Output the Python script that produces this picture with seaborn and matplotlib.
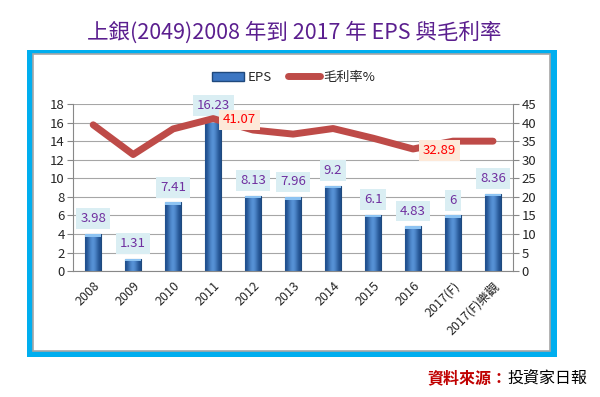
import matplotlib.pyplot as plt
import numpy as np
import seaborn as sns
from matplotlib.lines import Line2D
from matplotlib.patches import Patch, Rectangle

# Data
years = ["2008", "2009", "2010", "2011", "2012", "2013", "2014", "2015", "2016", "2017(F)", "2017(F)樂觀"]
eps = [3.98, 1.31, 7.41, 16.23, 8.13, 7.96, 9.2, 6.1, 4.83, 6, 8.36]
gross_margin = [39.4, 31.4, 38.3, 41.07, 38.0, 36.9, 38.4, 35.8, 32.89, 35.0, 35.0]
margin_labels = {3: "41.07", 8: "32.89"}

sns.set_style("white")
plt.rcParams["font.family"] = ["Noto Sans CJK TC", "DejaVu Sans"]

fig = plt.figure(figsize=(6, 3.97), dpi=100)

# blue frame with white panel inside
fig.patches.append(Rectangle((0.045, 0.101), 0.883, 0.773, transform=fig.transFigure,
                             facecolor="#00AEEF", edgecolor="none", zorder=-3))
fig.patches.append(Rectangle((0.055, 0.116), 0.862, 0.748, transform=fig.transFigure,
                             facecolor="white", edgecolor="#A6A6A6", lw=1.2, zorder=-2))

fig.text(0.49, 0.918, "上銀(2049)2008 年到 2017 年 EPS 與毛利率",
         ha="center", va="center", fontsize=15.5, color="#5B1F8F")

ax = fig.add_axes([0.122, 0.317, 0.733, 0.421])
ax.set_facecolor("none")
n = len(years)

sns.barplot(x=years, y=eps, ax=ax, color="#3C76C2", edgecolor="#1F497D",
            linewidth=0.8, width=0.4, zorder=2)

# horizontal shading on each bar
grad = np.array([[0.0, 0.45, 0.75, 0.45, 0.0]])
for bar in ax.patches:
    x0, y0 = bar.get_x(), bar.get_y()
    w, h = bar.get_width(), bar.get_height()
    im = ax.imshow(grad, cmap=sns.blend_palette(["#1F4E8C", "#5E9BE0"], as_cmap=True),
                   extent=[x0, x0 + w, y0, y0 + h], aspect="auto", zorder=2.5,
                   interpolation="bicubic")
    im.set_clip_path(bar)
    ax.add_patch(Rectangle((x0, y0 + h - 0.25), w, 0.25, facecolor="#8DC3F2",
                           edgecolor="none", zorder=3))

for i, v in enumerate(eps):
    ax.annotate(f"{v:g}", (i, v), xytext=(0, 11), textcoords="offset points",
                ha="center", va="center", fontsize=9.5, color="#7030A0", zorder=5,
                bbox=dict(boxstyle="square,pad=0.3", facecolor="#DAEEF3", edgecolor="none"))

ax.set_ylim(0, 18)
ax.set_yticks(range(0, 19, 2))
ax.set_xlim(-0.5, n - 0.5)
ax.yaxis.grid(True, color="#A6A6A6", lw=0.8, zorder=0)
ax.set_axisbelow(True)
ax.set_xticks(range(n))
ax.set_xticklabels(years, rotation=45, ha="right", rotation_mode="anchor", fontsize=9)
ax.set_xticks(np.arange(-0.5, n, 1), minor=True)
ax.tick_params(axis="x", which="major", length=0, pad=6)
ax.tick_params(axis="x", which="minor", length=4, color="#888888", direction="out")
ax.tick_params(axis="y", length=4, color="#888888", direction="out", labelsize=9.5, pad=2)
for side in ["left", "bottom"]:
    ax.spines[side].set_color("#888888")
ax.spines["top"].set_visible(False)
ax.spines["right"].set_visible(False)
ax.set_xlabel("")

ax2 = ax.twinx()
sns.lineplot(x=np.arange(n), y=gross_margin, ax=ax2, color="#BE4B48", lw=5,
             solid_capstyle="round", solid_joinstyle="round")
for i, txt in margin_labels.items():
    ax2.annotate(txt, (i, gross_margin[i]), xytext=(7, -1), textcoords="offset points",
                 ha="left", va="center", fontsize=9.5, color="#FF0000", zorder=5,
                 bbox=dict(boxstyle="square,pad=0.3", facecolor="#FDE9D9", edgecolor="none"))
ax2.set_ylim(0, 45)
ax2.set_yticks(range(0, 46, 5))
ax2.set_xlim(-0.5, n - 0.5)
ax2.tick_params(axis="y", length=4, color="#888888", direction="out", labelsize=9.5, pad=2)
ax2.spines["right"].set_color("#888888")
for side in ["top", "left", "bottom"]:
    ax2.spines[side].set_visible(False)

handles = [Patch(facecolor="#3C76C2", edgecolor="#1F497D"),
           Line2D([], [], color="#BE4B48", lw=5, solid_capstyle="round")]
fig.legend(handles, ["EPS", "毛利率%"], loc="center", bbox_to_anchor=(0.49, 0.805),
           ncol=2, frameon=False, fontsize=9.5, handlelength=2.4, columnspacing=1.2,
           handletextpad=0.3)

fig.text(0.845, 0.047, "資料來源：", ha="right", va="center", fontsize=11.5,
         color="#C00000", fontweight="bold")
fig.text(0.845, 0.047, "投資家日報", ha="left", va="center", fontsize=11.5, color="black")

fig.savefig("out.png", dpi=100)
